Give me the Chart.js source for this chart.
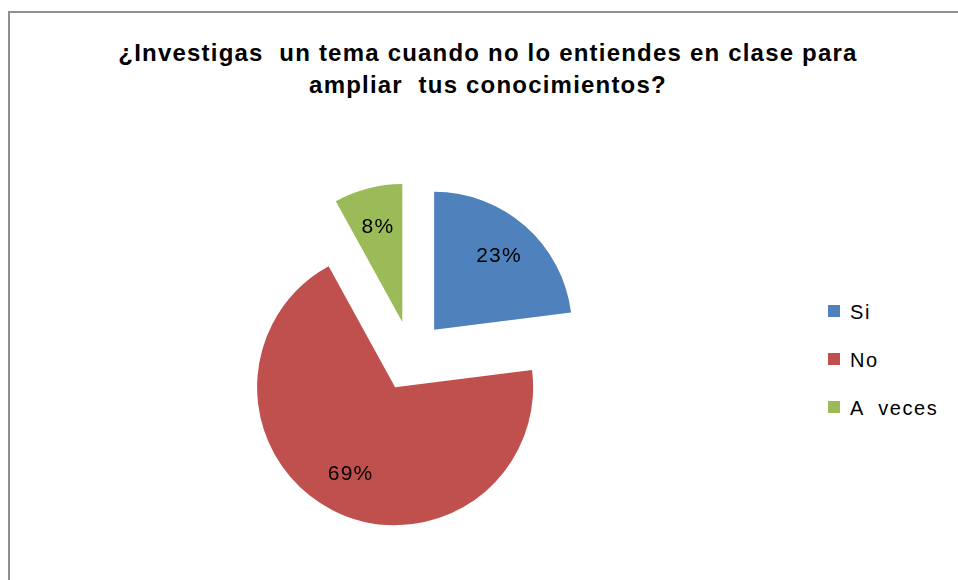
<!DOCTYPE html>
<html>
<head>
<meta charset="utf-8">
<script src="https://cdn.jsdelivr.net/npm/chart.js@4.4.1/dist/chart.umd.min.js"></script>
<style>
  html, body { margin: 0; padding: 0; background: #fff; overflow: hidden; }
  body { width: 958px; height: 580px; position: relative; }
  #frame {
    position: absolute; left: 8px; top: 11px; width: 970px; height: 600px;
    border-left: 2px solid #8f8f8f; border-top: 2px solid #8f8f8f;
  }
  #title {
    position: absolute; left: 8px; width: 960px; top: 37px;
    text-align: center; font: bold 24px "Liberation Sans", Arial, sans-serif;
    letter-spacing: 1.2px; line-height: 32px; color: #000;
  }
  #pie { position: absolute; left: 211px; top: 156px; }
  #legend { position: absolute; left: 828px; top: 301px; }
  .item { height: 48px; display: flex; align-items: flex-start; }
  .box { width: 12px; height: 12px; margin-top: 4px; margin-right: 10px; }
  .lbl { font: 20px "Liberation Sans", Arial, sans-serif; letter-spacing: 1.6px; color: #000; line-height: 22px; white-space: pre; }
</style>
</head>
<body>
<div id="frame"></div>
<div id="title">¿Investigas&nbsp; un tema cuando no lo entiendes en clase para<br>ampliar&nbsp; tus conocimientos?</div>
<canvas id="pie" width="400" height="400"></canvas>
<div id="legend"></div>
<script>
// answers and share of students (%)
const categories = ["Si", "No", "A  veces"];
const values = [23, 69, 8];
const colors = ["#4f81bd", "#c0504d", "#9bbb59"];

const EXPLODE = 35;   // px each slice is pulled out
const RADIUS = 138;

// --- legend ---
const legend = document.getElementById("legend");
categories.forEach((c, i) => {
  const row = document.createElement("div");
  row.className = "item";
  row.innerHTML = '<div class="box" style="background:' + colors[i] + '"></div><div class="lbl"></div>';
  row.querySelector(".lbl").textContent = c;
  legend.appendChild(row);
});

// draw each arc shifted out along its bisector (Excel style explosion)
const explodePlugin = {
  id: "explode",
  beforeDatasetDraw(chart, args) {
    const ctx = chart.ctx;
    args.meta.data.forEach(arc => {
      const mid = (arc.startAngle + arc.endAngle) / 2;
      ctx.save();
      ctx.translate(Math.cos(mid) * EXPLODE, Math.sin(mid) * EXPLODE);
      arc.draw(ctx, chart.chartArea);
      ctx.restore();
    });
    return false;
  }
};

// percentage labels inside slices
const labelPlugin = {
  id: "pctLabels",
  afterDatasetsDraw(chart) {
    const ctx = chart.ctx;
    const meta = chart.getDatasetMeta(0);
    const total = values.reduce((a, b) => a + b, 0);
    ctx.save();
    ctx.font = '21px "Liberation Sans", Arial, sans-serif';
    ctx.letterSpacing = "1.2px";
    ctx.fillStyle = "#000";
    ctx.textAlign = "center";
    ctx.textBaseline = "middle";
    meta.data.forEach((arc, i) => {
      const mid = (arc.startAngle + arc.endAngle) / 2;
      const d = EXPLODE + arc.outerRadius * 0.71;
      const x = arc.x + Math.cos(mid) * d;
      const y = arc.y + Math.sin(mid) * d;
      ctx.fillText(Math.round(values[i] / total * 100) + "%", x, y);
    });
    ctx.restore();
  }
};

new Chart(document.getElementById("pie"), {
  type: "pie",
  data: {
    labels: categories,
    datasets: [{
      data: values,
      backgroundColor: colors,
      borderWidth: 0,
      radius: RADIUS
    }]
  },
  options: {
    responsive: false,
    animation: false,
    plugins: {
      legend: { display: false },
      title: { display: false },
      tooltip: { enabled: false }
    }
  },
  plugins: [explodePlugin, labelPlugin]
});
</script>
</body>
</html>
